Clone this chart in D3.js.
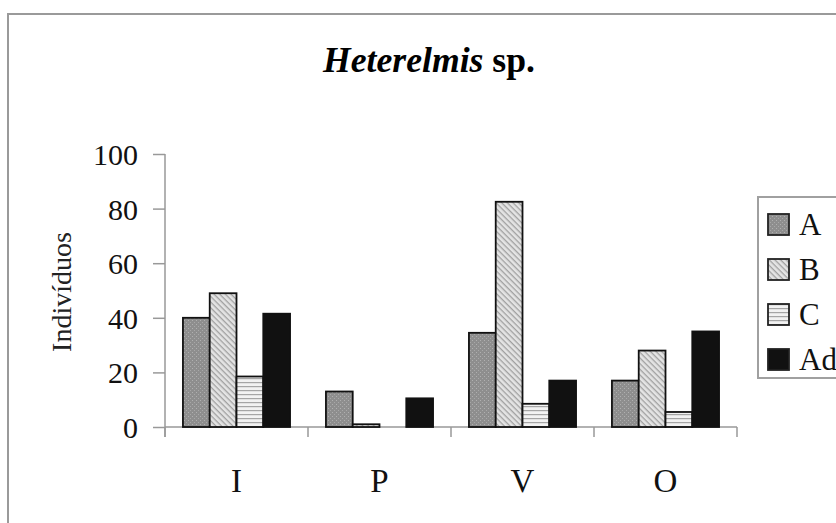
<!DOCTYPE html>
<html>
<head>
<meta charset="utf-8">
<script src="https://cdn.jsdelivr.net/npm/d3@7"></script>
<style>
  body { margin: 0; background: #fff; }
  svg { display: block; font-family: "Liberation Serif", "Times New Roman", serif; }
</style>
</head>
<body>
<div id="chart"></div>
<script>
const categories = ["I", "P", "V", "O"];
const series = ["A", "B", "C", "Ad"];
const valuesA = [40, 13, 34.5, 17];
const valuesB = [49, 1, 82.5, 28];
const valuesC = [18.5, 0, 8.5, 5.5];
const valuesAd = [41.5, 10.5, 17, 35];
const yTicks = [0, 20, 40, 60, 80, 100];

const W = 836, H = 523;
const svg = d3.select("#chart").append("svg")
  .attr("width", W).attr("height", H);

// patterns for the bar fills
const defs = svg.append("defs");
const pA = defs.append("pattern").attr("id", "pA")
  .attr("patternUnits", "userSpaceOnUse").attr("width", 4).attr("height", 4);
pA.append("rect").attr("width", 4).attr("height", 4).attr("fill", "#8e8e8e");
pA.append("rect").attr("x", 0).attr("y", 0).attr("width", 1).attr("height", 1).attr("fill", "#b0b0b0");
pA.append("rect").attr("x", 2).attr("y", 2).attr("width", 1).attr("height", 1).attr("fill", "#a8a8a8");

const pB = defs.append("pattern").attr("id", "pB")
  .attr("patternUnits", "userSpaceOnUse").attr("width", 4).attr("height", 4)
  .attr("patternTransform", "rotate(45)");
pB.append("rect").attr("width", 4).attr("height", 4).attr("fill", "#e4e4e4");
pB.append("rect").attr("width", 4).attr("height", 1.3).attr("fill", "#a0a0a0");

const pC = defs.append("pattern").attr("id", "pC")
  .attr("patternUnits", "userSpaceOnUse").attr("width", 4).attr("height", 4);
pC.append("rect").attr("width", 4).attr("height", 4).attr("fill", "#f2f2f2");
pC.append("rect").attr("y", 2).attr("width", 4).attr("height", 1.2).attr("fill", "#a5a5a5");

const fills = { A: "url(#pA)", B: "url(#pB)", C: "url(#pC)", Ad: "#111" };
const data = { A: valuesA, B: valuesB, C: valuesC, Ad: valuesAd };

// outer frame
svg.append("rect")
  .attr("x", 8).attr("y", 14).attr("width", W).attr("height", H)
  .attr("fill", "none").attr("stroke", "#9a9a9a").attr("stroke-width", 2);

const x = d3.scaleBand().domain(categories).range([165, 737]).padding(0);
const x1 = d3.scaleBand().domain(series).range([0, x.bandwidth()])
  .paddingInner(0).paddingOuter(0.67);
const y = d3.scaleLinear().domain([0, 100]).range([427, 154]);

// title
const title = svg.append("text")
  .attr("x", 429).attr("y", 72)
  .attr("text-anchor", "middle")
  .attr("font-size", 36).attr("font-weight", "bold")
  .attr("textLength", 212).attr("lengthAdjust", "spacingAndGlyphs");
title.append("tspan").attr("font-style", "italic").text("Heterelmis");
title.append("tspan").text(" sp.");

// y axis
const yAxis = svg.append("g")
  .attr("transform", "translate(165,0)")
  .call(d3.axisLeft(y).tickValues(yTicks).tickSize(12).tickPadding(15).tickFormat(d3.format("d")));
yAxis.select(".domain").remove();
yAxis.selectAll(".tick line").attr("stroke", "#999").attr("stroke-width", 1.5);
yAxis.selectAll(".tick text")
  .attr("font-family", "Liberation Serif, serif")
  .attr("font-size", 30).attr("fill", "#111").attr("dy", "0.35em");
svg.append("line")
  .attr("x1", 165).attr("x2", 165).attr("y1", y(100)).attr("y2", 437)
  .attr("stroke", "#999").attr("stroke-width", 1.5);

// x axis
svg.append("line")
  .attr("x1", x.range()[0]).attr("x2", x.range()[1])
  .attr("y1", y(0)).attr("y2", y(0))
  .attr("stroke", "#999").attr("stroke-width", 1.5);
const bounds = categories.map(c => x(c)).concat([x.range()[1]]);
svg.selectAll(".xtick").data(bounds).enter().append("line")
  .attr("x1", d => d).attr("x2", d => d)
  .attr("y1", y(0)).attr("y2", y(0) + 10)
  .attr("stroke", "#999").attr("stroke-width", 1.5);
svg.selectAll(".xlab").data(categories).enter().append("text")
  .attr("x", d => x(d) + x.bandwidth() / 2)
  .attr("y", 492)
  .attr("text-anchor", "middle")
  .attr("font-size", 33).attr("fill", "#111")
  .text(d => d);

// y axis title
svg.append("text")
  .attr("transform", "translate(71,292) rotate(-90)")
  .attr("text-anchor", "middle")
  .attr("font-size", 28).attr("fill", "#222")
  .text("Indivíduos");

// bars
categories.forEach((c, i) => {
  series.forEach(s => {
    const v = data[s][i];
    if (v <= 0) return;
    svg.append("rect")
      .attr("x", x(c) + x1(s))
      .attr("y", y(v))
      .attr("width", x1.bandwidth())
      .attr("height", y(0) - y(v))
      .attr("fill", fills[s])
      .attr("stroke", "#111").attr("stroke-width", 1.8);
  });
});

// legend
svg.append("rect")
  .attr("x", 758).attr("y", 197).attr("width", 100).attr("height", 181)
  .attr("fill", "#fff").attr("stroke", "#a0a0a0").attr("stroke-width", 2);
const leg = svg.selectAll(".leg").data(series).enter().append("g")
  .attr("transform", (d, i) => `translate(768,${224 + i * 45})`);
leg.append("rect")
  .attr("x", 0).attr("y", -10).attr("width", 21).attr("height", 21)
  .attr("fill", d => fills[d]).attr("stroke", "#222").attr("stroke-width", 1.8);
leg.append("text")
  .attr("x", 31).attr("y", 11)
  .attr("font-size", 31).attr("fill", "#111")
  .text(d => d);
</script>
</body>
</html>
